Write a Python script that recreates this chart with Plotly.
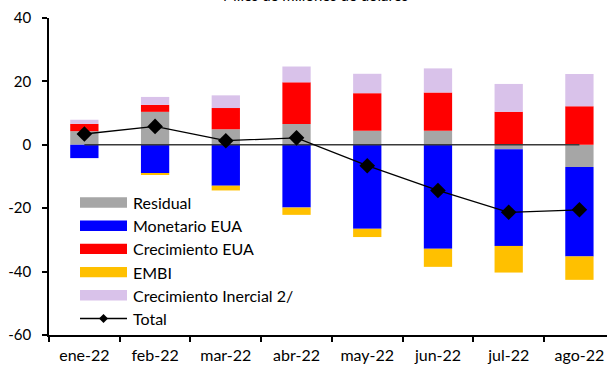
import plotly.graph_objects as go

months = ["ene-22", "feb-22", "mar-22", "abr-22", "may-22", "jun-22", "jul-22", "ago-22"]
residual = [4.3, 10.4, 4.9, 6.6, 4.4, 4.4, -1.4, -7.0]
monetario = [-4.2, -8.9, -12.9, -19.8, -26.5, -32.8, -30.5, -28.2]
crec_eua = [2.3, 2.2, 6.7, 13.1, 11.9, 12.1, 10.4, 12.2]
embi = [0.0, -0.4, -1.5, -2.3, -2.6, -5.7, -8.4, -7.4]
inercial = [1.3, 2.5, 4.0, 5.0, 6.1, 7.6, 8.8, 10.1]
total = [3.4, 5.8, 1.3, 2.2, -6.6, -14.4, -21.3, -20.5]
zero_line = [0, 0, 0, 0, 0, 0, 0, 0]
y_tickvals = [-60, -40, -20, 0, 20, 40]
y_ticktext = ["-60", "-40", "-20", "0", "20", "40"]

series_names = ["Residual", "Monetario EUA", "Crecimiento EUA", "EMBI", "Crecimiento Inercial 2/"]
series_vals = [residual, monetario, crec_eua, embi, inercial]
colors = ["#A6A6A6", "#0000FF", "#FF0000", "#FFC000", "#D9C2EA"]

W, H = 607, 367
ML, MR, MT, MB = 49, 0, 18, 32
PW, PH = W - ML - MR, H - MT - MB
FONT = "Lato"

fig = go.Figure()
for name, vals, col in zip(series_names, series_vals, colors):
    fig.add_trace(go.Bar(x=months, y=vals, name=name, marker=dict(color=col, line=dict(width=0)),
                         showlegend=False))

fig.add_trace(go.Scatter(x=months, y=zero_line, mode="lines", line=dict(color="#3a3a3a", width=1.6),
                         showlegend=False, hoverinfo="skip"))
fig.add_trace(go.Scatter(x=months, y=total, mode="lines+markers", name="Total",
                         line=dict(color="black", width=1.3),
                         marker=dict(symbol="diamond", size=12, color="black"), showlegend=False))


def px(xp):
    return (xp - ML) / PW


def py(yp):
    return (MT + PH - yp) / PH


shapes = []
annotations = []
legend_names = series_names + ["Total"]
for i, name in enumerate(legend_names):
    yc = 202.5 + 23.2 * i
    if i < len(series_names):
        shapes.append(dict(type="rect", xref="paper", yref="paper",
                           x0=px(80), x1=px(127), y0=py(yc + 5.2), y1=py(yc - 5.2),
                           fillcolor=colors[i], line=dict(width=0), layer="above"))
    else:
        shapes.append(dict(type="line", xref="paper", yref="paper",
                           x0=px(80), x1=px(127), y0=py(yc), y1=py(yc),
                           line=dict(color="black", width=1.3), layer="above"))
        cx = 103.5
        path = "M {} {} L {} {} L {} {} L {} {} Z".format(
            px(cx - 4.5), py(yc), px(cx), py(yc - 4.5), px(cx + 4.5), py(yc), px(cx), py(yc + 4.5))
        shapes.append(dict(type="path", xref="paper", yref="paper", path=path,
                           fillcolor="black", line=dict(width=0), layer="above"))
    annotations.append(dict(text=name, xref="paper", yref="paper", x=px(131), y=py(yc),
                            xanchor="left", yanchor="middle", showarrow=False,
                            font=dict(family=FONT, size=16, color="black")))

annotations.append(dict(text="Miles de millones de dólares", xref="paper", yref="paper",
                        x=px(315), y=py(-5.5), xanchor="center", yanchor="middle", showarrow=False,
                        font=dict(family=FONT, size=15, color="black")))

fig.update_layout(
    width=W, height=H,
    margin=dict(l=ML, r=MR, t=MT, b=MB, pad=0),
    barmode="relative", bargap=0.6,
    plot_bgcolor="white", paper_bgcolor="white",
    font=dict(family=FONT, size=15, color="black"),
    shapes=shapes, annotations=annotations,
    showlegend=False,
    xaxis=dict(range=[-0.5, 7.39], showgrid=False, zeroline=False, showline=True,
               linecolor="black", linewidth=1.5, ticks="outside", ticklen=5, tickcolor="black",
               tickwidth=1.5, tickson="boundaries", tickfont=dict(family=FONT, size=16),
               ticklabelstandoff=5, fixedrange=True),
    yaxis=dict(range=[-60, 40], tickvals=y_tickvals, ticktext=y_ticktext, showgrid=False,
               zeroline=False, showline=True,
               linecolor="black", linewidth=1.5, ticks="outside", ticklen=5, tickcolor="black",
               tickwidth=1.5, tickfont=dict(family=FONT, size=15), ticklabelstandoff=8,
               fixedrange=True),
)

fig.write_html("out.html")
